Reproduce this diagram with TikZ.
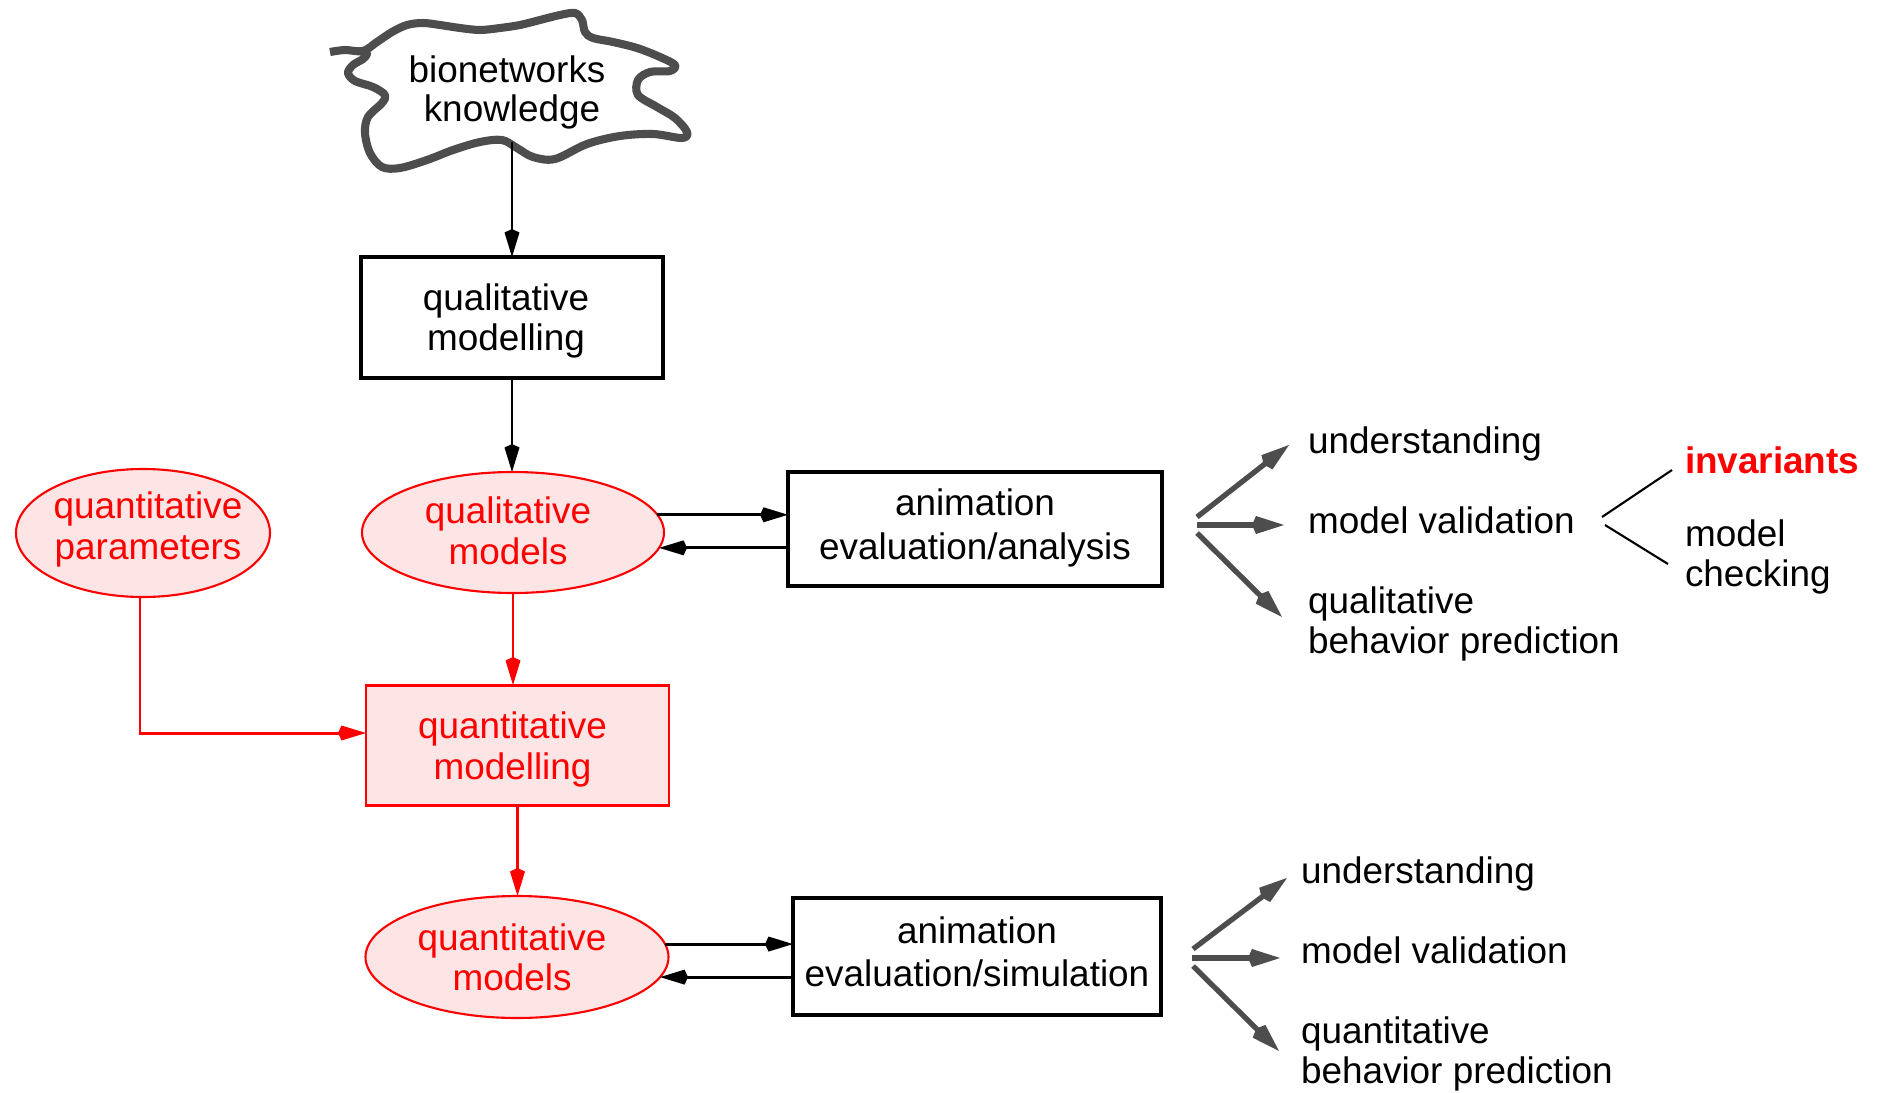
\documentclass[tikz,border=0pt]{standalone}
\usepackage{fontspec}
\setmainfont{Liberation Sans}
\usetikzlibrary{arrows.meta,shapes.geometric}
\definecolor{rd}{RGB}{255,0,0}
\definecolor{pk}{RGB}{253,229,229}
\definecolor{gr}{RGB}{77,77,77}
% #1 alignment, #2 horizontal shift (twice the wanted offset), #3 line spacing, #4 #5 lines
\newcommand\tln[5][c]{\makebox[0pt][#1]{\hspace*{#2}\fontsize{10.5}{#3}\selectfont\begin{tabular}[t]{@{}#1@{}}#4\\#5\end{tabular}}}
\newcommand\onel[1]{\makebox[0pt][l]{\fontsize{10.5}{12}\selectfont #1}}
\begin{document}
\begin{tikzpicture}[x=0.1mm,y=-0.1mm,
  every node/.style={inner sep=0pt,outer sep=0pt},
  tb/.style={text height=0pt,text depth=#1},
  tb/.default=0pt,
  bbox/.style={draw,line width=0.9pt,rectangle},
  rbox/.style={draw=rd,fill=pk,text=rd,line width=0.85pt,rectangle},
  rell/.style={draw=rd,fill=pk,text=rd,line width=0.6pt,ellipse},
  arr/.style={-{Kite[length=2.8mm,width=1.5mm,inset=0.35mm]},line width=0.85pt},
  rarr/.style={arr,rd},
  garr/.style={-{Kite[length=3.2mm,width=1.8mm,inset=0.4mm]},line width=1.5pt,gr},
  thinl/.style={line width=0.6pt}]
\useasboundingbox (0,0) rectangle (1877,1093);

% cloud
\draw[gr,line width=2.3pt,line join=round] plot[smooth,tension=0.55] coordinates {
(330,52) (345,50) (363,51) (377,42) (392,32) (407,25) (423,23) (440,25) (460,28)
(480,30) (500,28) (520,25) (540,20) (560,15) (575,13) (582,20) (585,32) (593,38)
(613,42) (637,48) (660,57) (675,65) (670,71) (650,72) (638,80) (638,95) (657,107)
(675,118) (687,132) (682,138) (653,134) (620,136) (587,144) (555,159) (533,157)
(517,148) (502,140) (480,142) (453,150) (427,160) (400,168) (382,167) (370,153)
(365,133) (368,117) (382,103) (385,95) (373,87) (355,81) (348,73) (353,65)
(363,59) (367,54) (364,51)};
\node[tb] (cloud) at (507,82) {\tln{0mm}{11.1pt}{bionetworks}{\hspace*{1mm}knowledge}};
\coordinate (cloudbot) at (512,142);

% main column
\node[bbox,minimum width=30.2mm,minimum height=12.1mm,tb=1.5mm] (qlmod) at (512,317.5) {\tln{-1.2mm}{11.4pt}{qualitative}{modelling}};
\node[rell,minimum width=30.2mm,minimum height=12.1mm,tb=1.9mm] (qlm) at (513,532.5) {\tln{-1mm}{11.9pt}{qualitative}{models}};
\node[rell,minimum width=25.4mm,minimum height=12.8mm,tb=3mm] (qp) at (143,533) {\tln{1mm}{11.7pt}{quantitative}{parameters}};
\node[bbox,minimum width=37.4mm,minimum height=11.4mm,tb=2.8mm] (an1) at (975,529) {\tln{0mm}{12.8pt}{animation}{evaluation/analysis}};
\node[rbox,minimum width=30.3mm,minimum height=12mm,tb=1.4mm] (qtmod) at (517.5,745) {\tln{-1mm}{11.9pt}{quantitative}{modelling}};
\node[rell,minimum width=30.3mm,minimum height=12.2mm,tb=1.4mm] (qtm) at (517,957) {\tln{-1mm}{11.4pt}{quantitative}{models}};
\node[bbox,minimum width=36.8mm,minimum height=11.7mm,tb=2.7mm] (an2) at (977,956.5) {\tln{0mm}{12.5pt}{animation}{evaluation/simulation}};

% connectors
\draw[arr] (cloudbot) -- (cloudbot |- qlmod.north);
\draw[arr] (qlmod.south) -- (qlmod.south |- qlm.north);
\draw[arr] (qlm.7) -- (qlm.7 -| an1.west);
\draw[arr] (qlm.-6.5 -| an1.west) -- (qlm.-6.5);
\draw[rarr] (qlm.south) -- (qlm.south |- qtmod.north);
\draw[rarr] ([xshift=-0.3mm]qp.south) |- ([yshift=1.2mm]qtmod.west);
\draw[rarr] (qtmod.south) -- (qtmod.south |- qtm.north);
\draw[arr] (qtm.5) -- (qtm.5 -| an2.west);
\draw[arr] (qtm.-8 -| an2.west) -- (qtm.-8);

% right texts (upper)
\node[tb] (u1) at (1308,453) {\onel{understanding}};
\node[tb] (mv1) at (1308,533) {\onel{model validation}};
\node[tb] (qb1) at (1308,613) {\tln[l]{0mm}{11.4pt}{qualitative}{behavior prediction}};
\node[tb,text=rd] (inv) at (1685,473) {\onel{\bfseries invariants}};
\node[tb] (mc) at (1685,546) {\tln[l]{0mm}{11.6pt}{model}{checking}};
% right texts (lower)
\node[tb] (u2) at (1301,883) {\onel{understanding}};
\node[tb] (mv2) at (1301,963) {\onel{model validation}};
\node[tb] (qb2) at (1301,1043) {\tln[l]{0mm}{11.4pt}{quantitative}{behavior prediction}};

% fan arrows
\coordinate (f1a) at (1197,517); \coordinate (f1b) at (1289,445);
\coordinate (f2a) at (1197,525); \coordinate (f2b) at (1284,525);
\coordinate (f3a) at (1197,533); \coordinate (f3b) at (1282,617);
\coordinate (g1a) at (1193,949); \coordinate (g1b) at (1287,878);
\coordinate (g2a) at (1192,958); \coordinate (g2b) at (1280,958);
\coordinate (g3a) at (1193,966); \coordinate (g3b) at (1279,1051);
\draw[garr] (f1a) -- (f1b);
\draw[garr] (f2a) -- (f2b);
\draw[garr] (f3a) -- (f3b);
\draw[garr] (g1a) -- (g1b);
\draw[garr] (g2a) -- (g2b);
\draw[garr] (g3a) -- (g3b);

% thin lines to invariants / model checking
\coordinate (t1a) at (1602,517); \coordinate (t1b) at (1672,470);
\coordinate (t2a) at (1605,525); \coordinate (t2b) at (1668,564);
\draw[thinl] (t1a) -- (t1b);
\draw[thinl] (t2a) -- (t2b);
\end{tikzpicture}
\end{document}
